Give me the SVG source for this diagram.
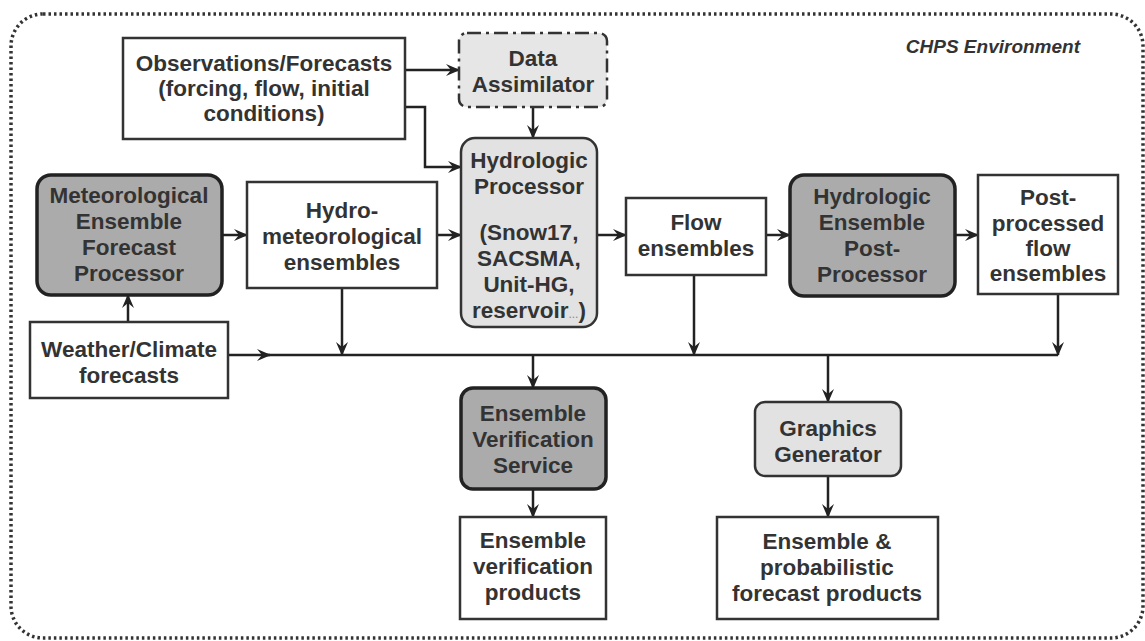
<svg xmlns="http://www.w3.org/2000/svg" width="1145" height="641" viewBox="0 0 1145 641">
<style>
.t{font-family:"Liberation Sans",Arial,sans-serif;font-weight:bold;font-size:22.5px;fill:#333;text-anchor:middle}
.w{fill:#fff;stroke:#333;stroke-width:2.5}
.dk{fill:#ababab;stroke:#222;stroke-width:3.5}
.lt{fill:#e2e2e2;stroke:#333;stroke-width:2.5}
.c{fill:none;stroke:#222;stroke-width:2.5}
</style>
<defs>
<marker id="a" viewBox="0 0 14 12" refX="13" refY="6" markerWidth="14" markerHeight="12" markerUnits="userSpaceOnUse" orient="auto">
<path d="M0,0 L14,6 L0,12 L5,6 z" fill="#222"/>
</marker>
</defs>
<rect x="0" y="0" width="1145" height="641" fill="#fff"/>
<rect x="11" y="14" width="1132" height="624" rx="32" fill="none" stroke="#333" stroke-width="3.5" stroke-dasharray="2.5 3"/>
<text x="1080" y="53" style="font-family:'Liberation Sans',Arial,sans-serif;font-weight:bold;font-style:italic;font-size:19px;fill:#333;text-anchor:end">CHPS Environment</text>

<g id="connectors">
<path class="c" d="M405,70 H459" marker-end="url(#a)"/>
<path class="c" d="M405,107 H425 V167 H461" marker-end="url(#a)"/>
<path class="c" d="M533,107 V138" marker-end="url(#a)"/>
<path class="c" d="M222,235 H247" marker-end="url(#a)"/>
<path class="c" d="M437,235 H461" marker-end="url(#a)"/>
<path class="c" d="M597,235 H626" marker-end="url(#a)"/>
<path class="c" d="M766,235 H790" marker-end="url(#a)"/>
<path class="c" d="M955,235 H978" marker-end="url(#a)"/>
<path class="c" d="M128,322 V295" marker-end="url(#a)"/>
<path class="c" d="M228,355 H270" marker-end="url(#a)"/>
<path class="c" d="M266,355 H1058"/>
<path class="c" d="M1058,294 V355" marker-end="url(#a)"/>
<path class="c" d="M342,288 V355" marker-end="url(#a)"/>
<path class="c" d="M694,275 V355" marker-end="url(#a)"/>
<path class="c" d="M533,355 V388" marker-end="url(#a)"/>
<path class="c" d="M828,355 V402" marker-end="url(#a)"/>
<path class="c" d="M533,489 V517" marker-end="url(#a)"/>
<path class="c" d="M828,476 V517" marker-end="url(#a)"/>
</g>

<g id="obs">
<rect class="w" x="123" y="38" width="282" height="101"/>
<text class="t" x="264" y="71">Observations/Forecasts</text>
<text class="t" x="264" y="96">(forcing, flow, initial</text>
<text class="t" x="264" y="121">conditions)</text>
</g>
<g id="da">
<rect x="459" y="33" width="148" height="74" rx="8" fill="#e6e6e6" stroke="#333" stroke-width="2.5" stroke-dasharray="14 5 3 5"/>
<text class="t" x="533" y="66">Data</text>
<text class="t" x="533" y="92">Assimilator</text>
</g>
<g id="hp">
<rect class="lt" x="461" y="138" width="136" height="189" rx="14"/>
<text class="t" x="529" y="168">Hydrologic</text>
<text class="t" x="529" y="194">Processor</text>
<text class="t" x="529" y="240">(Snow17,</text>
<text class="t" x="529" y="266">SACSMA,</text>
<text class="t" x="529" y="292">Unit-HG,</text>
<text class="t" x="529" y="318">reservoir<tspan style="font-size:12px;font-weight:normal;fill:#888">...</tspan>)</text>
</g>
<g id="mefp">
<rect class="dk" x="37" y="175" width="185" height="120" rx="14"/>
<text class="t" x="129" y="203">Meteorological</text>
<text class="t" x="129" y="229">Ensemble</text>
<text class="t" x="129" y="255">Forecast</text>
<text class="t" x="129" y="281">Processor</text>
</g>
<g id="hme">
<rect class="w" x="247" y="182" width="190" height="106"/>
<text class="t" x="342" y="218">Hydro-</text>
<text class="t" x="342" y="244">meteorological</text>
<text class="t" x="342" y="270">ensembles</text>
</g>
<g id="wcf">
<rect class="w" x="30" y="322" width="198" height="76"/>
<text class="t" x="129" y="357">Weather/Climate</text>
<text class="t" x="129" y="383">forecasts</text>
</g>
<g id="flow">
<rect class="w" x="626" y="198" width="140" height="77"/>
<text class="t" x="696" y="230">Flow</text>
<text class="t" x="696" y="256">ensembles</text>
</g>
<g id="hepp">
<rect class="dk" x="790" y="175" width="165" height="121" rx="14"/>
<text class="t" x="872" y="204">Hydrologic</text>
<text class="t" x="872" y="230">Ensemble</text>
<text class="t" x="872" y="256">Post-</text>
<text class="t" x="872" y="282">Processor</text>
</g>
<g id="ppfe">
<rect class="w" x="978" y="175" width="140" height="119"/>
<text class="t" x="1048" y="205">Post-</text>
<text class="t" x="1048" y="231">processed</text>
<text class="t" x="1048" y="256">flow</text>
<text class="t" x="1048" y="281">ensembles</text>
</g>
<g id="evs">
<rect class="dk" x="461" y="388" width="145" height="101" rx="12"/>
<text class="t" x="533" y="421">Ensemble</text>
<text class="t" x="533" y="447">Verification</text>
<text class="t" x="533" y="473">Service</text>
</g>
<g id="evp">
<rect class="w" x="460" y="517" width="146" height="102"/>
<text class="t" x="533" y="548">Ensemble</text>
<text class="t" x="533" y="574">verification</text>
<text class="t" x="533" y="600">products</text>
</g>
<g id="gg">
<rect class="lt" x="755" y="402" width="146" height="74" rx="10"/>
<text class="t" x="828" y="436">Graphics</text>
<text class="t" x="828" y="462">Generator</text>
</g>
<g id="epfp">
<rect class="w" x="717" y="517" width="221" height="102"/>
<text class="t" x="827" y="549">Ensemble &amp;</text>
<text class="t" x="827" y="575">probabilistic</text>
<text class="t" x="827" y="601">forecast products</text>
</g>
</svg>
